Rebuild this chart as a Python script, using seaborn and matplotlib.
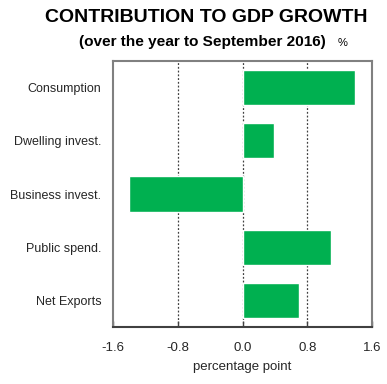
import matplotlib
matplotlib.use("Agg")
import matplotlib.pyplot as plt
import seaborn as sns
import pandas as pd

categories = ["Consumption", "Dwelling invest.", "Business invest.", "Public spend.", "Net Exports"]
values = [1.39, 0.39, -1.40, 1.09, 0.70]
xticks = [-1.6, -0.8, 0.0, 0.8, 1.6]
xticklabels = ["-1.6", "-0.8", "0.0", "0.8", "1.6"]

sns.set_theme(style="white")
plt.rcParams['font.family'] = ['Liberation Sans', 'DejaVu Sans']

df = pd.DataFrame({"category": categories, "value": values})

fig = plt.figure(figsize=(3.87, 3.84), dpi=100)
ax = fig.add_axes([113/387, 1-327/384, (372-113)/387, (327-61)/384])

for x in [-0.8, 0.0, 0.8]:
    ax.axvline(x, color="#404040", linestyle=(0, (1.5, 1.5)), linewidth=0.9, zorder=0)

sns.barplot(data=df, x="value", y="category", orient="h", color="#00B050",
            saturation=1, width=0.66, ax=ax, zorder=2)

ax.set_xlim(-1.6, 1.6)
ax.set_xticks(xticks)
ax.set_xticklabels(xticklabels, fontsize=9.5)
ax.set_ylabel("")
ax.set_xlabel("percentage point", fontsize=9.5, labelpad=4.5)
ax.tick_params(axis="y", length=0, labelsize=9, pad=8.5)
ax.tick_params(axis="x", direction="in", length=4, width=1, color="#404040", pad=11, bottom=True)
for s in ["top", "left", "right"]:
    ax.spines[s].set_color("#808080")
    ax.spines[s].set_linewidth(1.5)
ax.spines["bottom"].set_color("#404040")
ax.spines["bottom"].set_linewidth(1.5)

fig.text(206.5/387, 1-18/384, "CONTRIBUTION TO GDP GROWTH", ha="center", va="center",
         fontsize=14, fontweight="bold", color="black")
fig.text(202.5/387, 1-42/384, "(over the year to September 2016)", ha="center", va="center",
         fontsize=11.1, fontweight="bold", color="black")
fig.text(343/387, 1-43/384, "%", ha="center", va="center", fontsize=8, color="black")

fig.savefig("out.png", dpi=100)
